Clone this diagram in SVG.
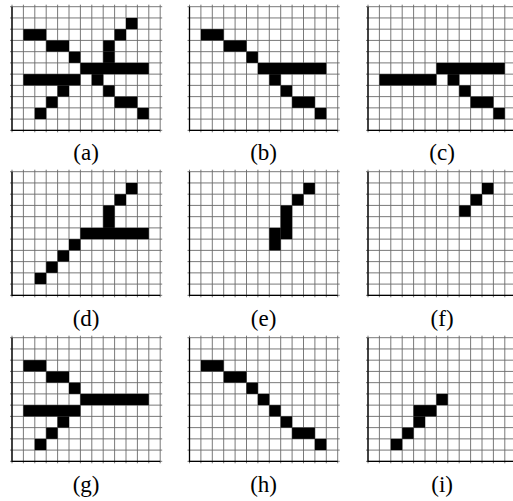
<svg xmlns="http://www.w3.org/2000/svg" xmlns:xlink="http://www.w3.org/1999/xlink" width="513" height="501" viewBox="0 0 513 501">
<style>
  .grid { fill: none; stroke: #6a6a6a; stroke-width: 0.9; }
  .frame { fill: none; stroke: #000; stroke-width: 1.3; }
  .on { fill: #000; }
  .lbl { font-family: "Liberation Serif", "DejaVu Serif", serif; font-size: 23px; fill: #000; text-anchor: middle; }
</style>
<defs>
  <g id="grid">
    <path class="grid" d="M0,-2V125.6M11.4,-2V125.6M22.8,-2V125.6M34.2,-2V125.6M45.6,-2V125.6M57,-2V125.6M68.4,-2V125.6M79.8,-2V125.6M91.2,-2V125.6M102.6,-2V125.6M114,-2V125.6M125.4,-2V125.6M136.8,-2V125.6M148.2,-2V125.6M-2,0H150.2M-2,11.24H150.2M-2,22.48H150.2M-2,33.72H150.2M-2,44.96H150.2M-2,56.2H150.2M-2,67.44H150.2M-2,78.68H150.2M-2,89.92H150.2M-2,101.16H150.2M-2,112.4H150.2M-2,123.64H150.2"/>
    <path class="frame" d="M0,0V123.64H148.2"/>
  </g>
</defs>

<g id="panel-a">
  <g transform="translate(12,6.7)">
    <use xlink:href="#grid" href="#grid"/>
    <rect class="on" x="114" y="11.24" width="11.4" height="11.24"/>
    <rect class="on" x="11.4" y="22.48" width="22.8" height="11.24"/>
    <rect class="on" x="102.6" y="22.48" width="11.4" height="11.24"/>
    <rect class="on" x="34.2" y="33.72" width="22.8" height="11.24"/>
    <rect class="on" x="91.2" y="33.72" width="11.4" height="11.24"/>
    <rect class="on" x="57" y="44.96" width="11.4" height="11.24"/>
    <rect class="on" x="91.2" y="44.96" width="11.4" height="11.24"/>
    <rect class="on" x="68.4" y="56.2" width="68.4" height="11.24"/>
    <rect class="on" x="11.4" y="67.44" width="57" height="11.24"/>
    <rect class="on" x="79.8" y="67.44" width="11.4" height="11.24"/>
    <rect class="on" x="45.6" y="78.68" width="11.4" height="11.24"/>
    <rect class="on" x="91.2" y="78.68" width="11.4" height="11.24"/>
    <rect class="on" x="34.2" y="89.92" width="11.4" height="11.24"/>
    <rect class="on" x="102.6" y="89.92" width="22.8" height="11.24"/>
    <rect class="on" x="22.8" y="101.16" width="11.4" height="11.24"/>
    <rect class="on" x="125.4" y="101.16" width="11.4" height="11.24"/>
  </g>
  <text class="lbl" x="86.1" y="160">(a)</text>
</g>

<g id="panel-b">
  <g transform="translate(189.5,6.7)">
    <use xlink:href="#grid" href="#grid"/>
    <rect class="on" x="11.4" y="22.48" width="22.8" height="11.24"/>
    <rect class="on" x="34.2" y="33.72" width="22.8" height="11.24"/>
    <rect class="on" x="57" y="44.96" width="11.4" height="11.24"/>
    <rect class="on" x="68.4" y="56.2" width="68.4" height="11.24"/>
    <rect class="on" x="79.8" y="67.44" width="11.4" height="11.24"/>
    <rect class="on" x="91.2" y="78.68" width="11.4" height="11.24"/>
    <rect class="on" x="102.6" y="89.92" width="22.8" height="11.24"/>
    <rect class="on" x="125.4" y="101.16" width="11.4" height="11.24"/>
  </g>
  <text class="lbl" x="263.6" y="160">(b)</text>
</g>

<g id="panel-c">
  <g transform="translate(368,6.7)">
    <use xlink:href="#grid" href="#grid"/>
    <rect class="on" x="68.4" y="56.2" width="68.4" height="11.24"/>
    <rect class="on" x="11.4" y="67.44" width="57" height="11.24"/>
    <rect class="on" x="79.8" y="67.44" width="11.4" height="11.24"/>
    <rect class="on" x="91.2" y="78.68" width="11.4" height="11.24"/>
    <rect class="on" x="102.6" y="89.92" width="22.8" height="11.24"/>
    <rect class="on" x="125.4" y="101.16" width="11.4" height="11.24"/>
  </g>
  <text class="lbl" x="442.1" y="160">(c)</text>
</g>

<g id="panel-d">
  <g transform="translate(12,171.7)">
    <use xlink:href="#grid" href="#grid"/>
    <rect class="on" x="114" y="11.24" width="11.4" height="11.24"/>
    <rect class="on" x="102.6" y="22.48" width="11.4" height="11.24"/>
    <rect class="on" x="91.2" y="33.72" width="11.4" height="22.48"/>
    <rect class="on" x="68.4" y="56.2" width="68.4" height="11.24"/>
    <rect class="on" x="57" y="67.44" width="11.4" height="11.24"/>
    <rect class="on" x="45.6" y="78.68" width="11.4" height="11.24"/>
    <rect class="on" x="34.2" y="89.92" width="11.4" height="11.24"/>
    <rect class="on" x="22.8" y="101.16" width="11.4" height="11.24"/>
  </g>
  <text class="lbl" x="86.1" y="325.5">(d)</text>
</g>

<g id="panel-e">
  <g transform="translate(189.5,171.7)">
    <use xlink:href="#grid" href="#grid"/>
    <rect class="on" x="114" y="11.24" width="11.4" height="11.24"/>
    <rect class="on" x="102.6" y="22.48" width="11.4" height="11.24"/>
    <rect class="on" x="91.2" y="33.72" width="11.4" height="33.72"/>
    <rect class="on" x="79.8" y="56.2" width="11.4" height="22.48"/>
  </g>
  <text class="lbl" x="263.6" y="325.5">(e)</text>
</g>

<g id="panel-f">
  <g transform="translate(368,171.7)">
    <use xlink:href="#grid" href="#grid"/>
    <rect class="on" x="114" y="11.24" width="11.4" height="11.24"/>
    <rect class="on" x="102.6" y="22.48" width="11.4" height="11.24"/>
    <rect class="on" x="91.2" y="33.72" width="11.4" height="11.24"/>
  </g>
  <text class="lbl" x="442.1" y="325.5">(f)</text>
</g>

<g id="panel-g">
  <g transform="translate(12,337.7)">
    <use xlink:href="#grid" href="#grid"/>
    <rect class="on" x="11.4" y="22.48" width="22.8" height="11.24"/>
    <rect class="on" x="34.2" y="33.72" width="22.8" height="11.24"/>
    <rect class="on" x="57" y="44.96" width="11.4" height="11.24"/>
    <rect class="on" x="68.4" y="56.2" width="68.4" height="11.24"/>
    <rect class="on" x="11.4" y="67.44" width="57" height="11.24"/>
    <rect class="on" x="45.6" y="78.68" width="11.4" height="11.24"/>
    <rect class="on" x="34.2" y="89.92" width="11.4" height="11.24"/>
    <rect class="on" x="22.8" y="101.16" width="11.4" height="11.24"/>
  </g>
  <text class="lbl" x="86.1" y="491.5">(g)</text>
</g>

<g id="panel-h">
  <g transform="translate(189.5,337.7)">
    <use xlink:href="#grid" href="#grid"/>
    <rect class="on" x="11.4" y="22.48" width="22.8" height="11.24"/>
    <rect class="on" x="34.2" y="33.72" width="22.8" height="11.24"/>
    <rect class="on" x="57" y="44.96" width="11.4" height="11.24"/>
    <rect class="on" x="68.4" y="56.2" width="11.4" height="11.24"/>
    <rect class="on" x="79.8" y="67.44" width="11.4" height="11.24"/>
    <rect class="on" x="91.2" y="78.68" width="11.4" height="11.24"/>
    <rect class="on" x="102.6" y="89.92" width="22.8" height="11.24"/>
    <rect class="on" x="125.4" y="101.16" width="11.4" height="11.24"/>
  </g>
  <text class="lbl" x="263.6" y="491.5">(h)</text>
</g>

<g id="panel-i">
  <g transform="translate(368,337.7)">
    <use xlink:href="#grid" href="#grid"/>
    <rect class="on" x="68.4" y="56.2" width="11.4" height="11.24"/>
    <rect class="on" x="45.6" y="67.44" width="22.8" height="11.24"/>
    <rect class="on" x="45.6" y="78.68" width="11.4" height="11.24"/>
    <rect class="on" x="34.2" y="89.92" width="11.4" height="11.24"/>
    <rect class="on" x="22.8" y="101.16" width="11.4" height="11.24"/>
  </g>
  <text class="lbl" x="442.1" y="491.5">(i)</text>
</g>
</svg>
